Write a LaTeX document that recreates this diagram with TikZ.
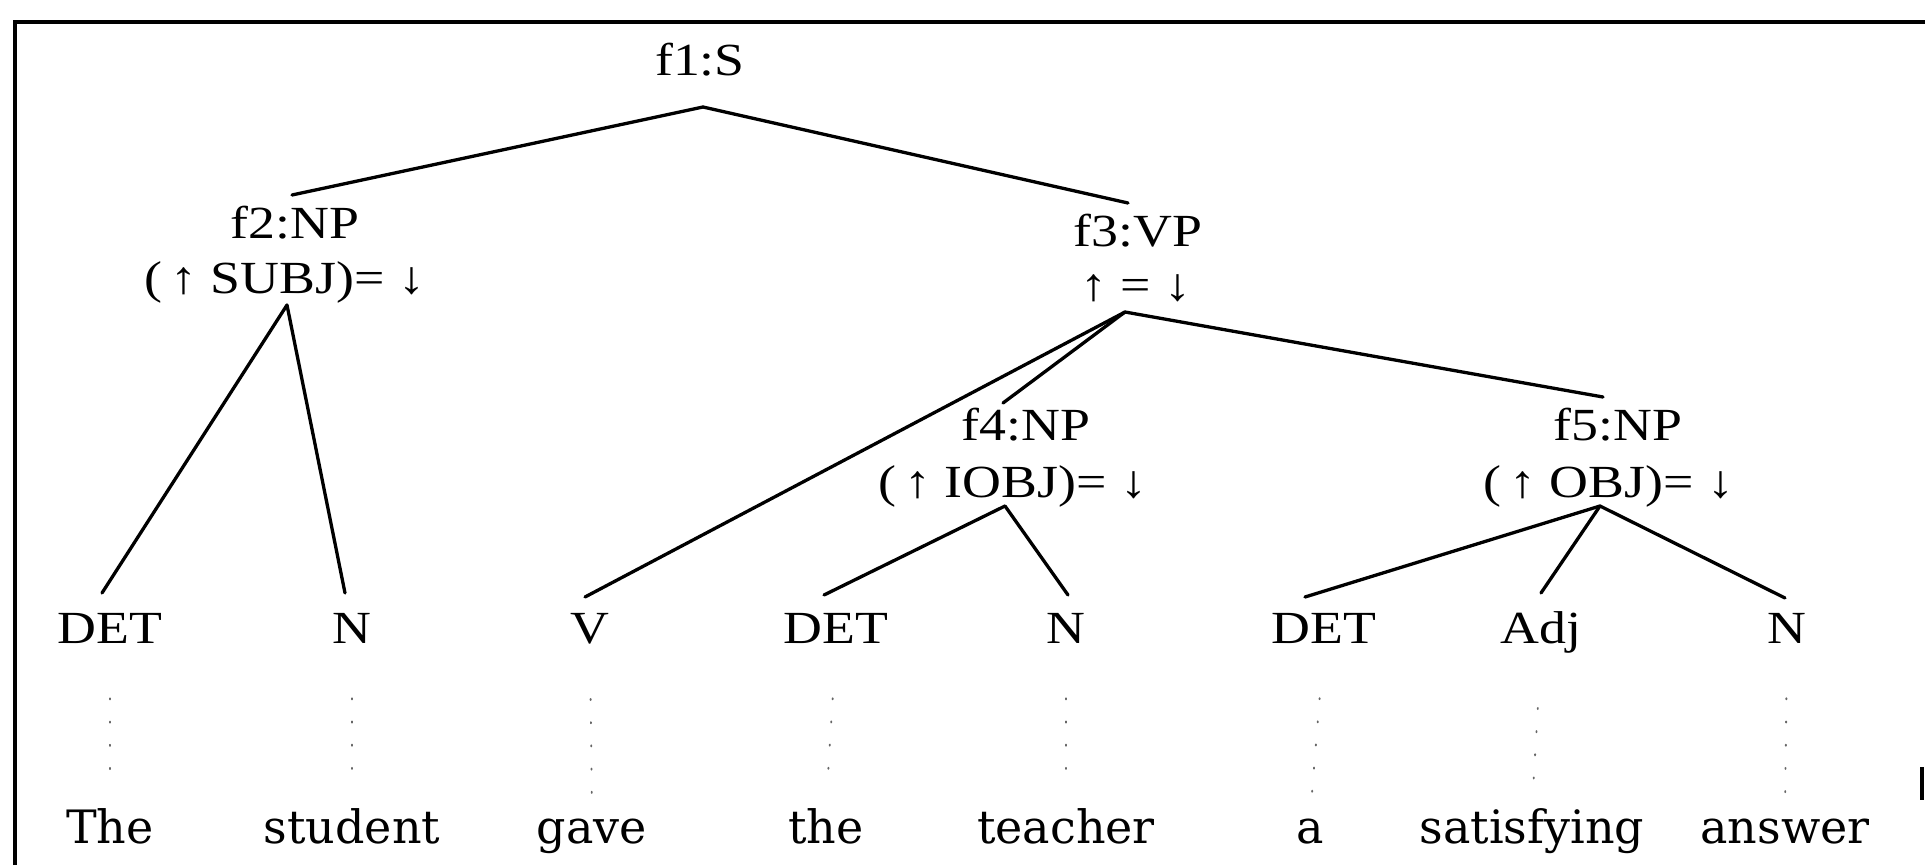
\documentclass[tikz,border=0pt]{standalone}
\usepackage{fontspec}
\setmainfont{Liberation Serif}
\newfontfamily\labfont[FakeStretch=1.17]{Liberation Serif}
\newfontfamily\wordfont{DejaVu Serif}
\begin{document}
\begin{tikzpicture}[x=1pt,y=-1pt,
  lab/.style={font=\labfont\fontsize{46}{52}\selectfont, inner sep=0pt, anchor=base},
  word/.style={font=\wordfont\fontsize{46}{52}\selectfont, inner sep=0pt, anchor=base},
  branch/.style={line width=3.3pt, line cap=round},
  dotlink/.style={line width=1.8pt, black!60, dash pattern=on 1.2pt off 22pt, line cap=round, shorten <=55pt, shorten >=18pt},
  framebar/.style={line width=3.2pt}]
\useasboundingbox (0,0) rectangle (1925,865);
% frame
\coordinate (fbl) at (15,865);
\coordinate (ftl) at (15,22);
\coordinate (ftr) at (1925,22);
\coordinate (fra) at (1922,767);
\coordinate (frb) at (1922,800);
\draw[framebar] (fbl) -- (ftl) -- (ftr);
\draw[framebar] (fra) -- (frb);
% phrase nodes
\node[lab] (f1) at (700,75) {f1:S};
\node[lab] (f2) at (295,238) {f2:NP};
\node[lab] (f2a) at (285,293) {(\,↑ SUBJ)= ↓};
\node[lab] (f3) at (1138,246) {f3:VP};
\node[lab] (f3a) at (1136,300) {↑ = ↓};
\node[lab] (f4) at (1026,440) {f4:NP};
\node[lab] (f4a) at (1013,497) {(\,↑ IOBJ)= ↓};
\node[lab] (f5) at (1618,440) {f5:NP};
\node[lab] (f5a) at (1609,497) {(\,↑ OBJ)= ↓};
% categories
\node[lab] (c1) at (110,643) {DET};
\node[lab] (c2) at (352,643) {N};
\node[lab] (c3) at (590,643) {V};
\node[lab] (c4) at (836,643) {DET};
\node[lab] (c5) at (1066,643) {N};
\node[lab] (c6) at (1324,643) {DET};
\node[lab] (c7) at (1541,643) {Adj};
\node[lab] (c8) at (1787,643) {N};
% words
\node[word] (w1) at (110,843) {The};
\node[word] (w2) at (352,843) {student};
\node[word] (w3) at (592,843) {gave};
\node[word] (w4) at (826,843) {the};
\node[word] (w5) at (1066,843) {teacher};
\node[word] (w6) at (1310,843) {a};
\node[word] (w7) at (1532,843) {satisfying};
\node[word] (w8) at (1785,843) {answer};
% connection points
\coordinate (f1b) at (703,107);
\coordinate (f2t) at (292,195);
\coordinate (f3t) at (1128,203);
\coordinate (f2b) at (287,305);
\coordinate (f3b) at (1125,312);
\coordinate (f4t) at (1003,403);
\coordinate (f5t) at (1603,397);
\coordinate (f4b) at (1005,506);
\coordinate (f5b) at (1600,506);
\coordinate (c1t) at (102,593);
\coordinate (c2t) at (345,593);
\coordinate (c3t) at (585,597);
\coordinate (c4t) at (824,595);
\coordinate (c5t) at (1068,595);
\coordinate (c6t) at (1305,597);
\coordinate (c7t) at (1541,593);
\coordinate (c8t) at (1785,598);
% branches
\draw[branch] (f1b) -- (f2t);
\draw[branch] (f1b) -- (f3t);
\draw[branch] (f2b) -- (c1t);
\draw[branch] (f2b) -- (c2t);
\draw[branch] (f3b) -- (c3t);
\draw[branch] (f3b) -- (f4t);
\draw[branch] (f3b) -- (f5t);
\draw[branch] (f4b) -- (c4t);
\draw[branch] (f4b) -- (c5t);
\draw[branch] (f5b) -- (c6t);
\draw[branch] (f5b) -- (c7t);
\draw[branch] (f5b) -- (c8t);
% dotted links
\foreach \i in {1,...,8} { \draw[dotlink] (c\i.south) -- (w\i.north); }
\end{tikzpicture}
\end{document}
